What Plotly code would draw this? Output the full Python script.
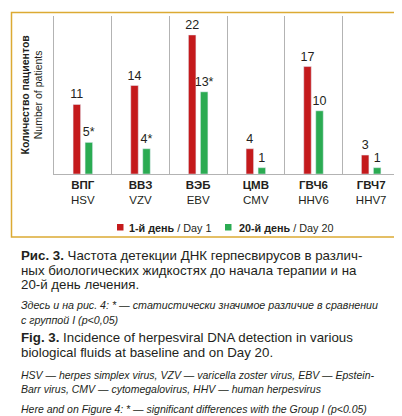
import plotly.graph_objects as go

categories_ru = ["ВПГ", "ВВЗ", "ВЭБ", "ЦМВ", "ГВЧ6", "ГВЧ7"]
categories_en = ["HSV", "VZV", "EBV", "CMV", "HHV6", "HHV7"]
day1_values = [11, 14, 22, 4, 17, 3]
day20_values = [5, 4, 13, 1, 10, 1]
day20_marks = ["*", "*", "*", "", "", ""]
series_names = ["<b>1-й день</b> / Day 1", "<b>20-й день</b> / Day 20"]

RED = "#c41a1c"
GREEN = "#2bab52"
GOLD = "#dcaa33"
GRID = "#b3b3b3"
TXT = "#231f20"
COND = "Liberation Sans, Arial, sans-serif"
CAP = "Liberation Sans, Arial, Helvetica, sans-serif"

W, H = 402, 416
L, R, T, B = 46, 10, 8, 250
PW, PH = W - L - R, H - T - B

def px(x):
    return (x - L) / PW

def py(y):
    return (H - B - y) / PH

x_labels = [f"<b>{ru}</b><br>{en}" for ru, en in zip(categories_ru, categories_en)]

fig = go.Figure()
fig.add_trace(go.Bar(
    x=x_labels, y=day1_values, marker_color=RED, showlegend=False,
    text=[str(v) for v in day1_values], textposition="outside", constraintext="none",
    textfont=dict(family=COND, size=12.5, color=TXT), cliponaxis=False,
))
fig.add_trace(go.Bar(
    x=x_labels, y=day20_values, marker_color=GREEN, showlegend=False,
    text=[f"{v}{m}" for v, m in zip(day20_values, day20_marks)], textposition="outside",
    constraintext="none",
    textfont=dict(family=COND, size=12.5, color=TXT), cliponaxis=False,
))

fig.update_layout(
    width=W, height=H,
    margin=dict(l=L, r=R, t=T, b=B),
    paper_bgcolor="white", plot_bgcolor="white",
    barmode="group", bargap=0.584, bargroupgap=0.375,
    font=dict(family=COND, color=TXT),
    showlegend=False,
)
fig.update_xaxes(
    type="category", range=[-0.5, 5.5], tickson="boundaries",
    showgrid=True, gridcolor=GRID, gridwidth=1.2,
    showline=True, linecolor=GRID, linewidth=1.2,
    ticks="", tickfont=dict(family=COND, size=11.5, color=TXT),
)
fig.update_yaxes(
    range=[0, 25], showgrid=False, showticklabels=False, zeroline=False,
    showline=True, linecolor=GRID, linewidth=1.2, ticks="",
)

ann = []
# y axis title
ann.append(dict(
    xref="paper", yref="paper", x=px(23.5), y=0.5, xanchor="center", yanchor="middle",
    textangle=-90, showarrow=False,
    text="<b>Количество пациентов</b><br>Number of patients",
    font=dict(family=COND, size=10.5, color=TXT),
))
# legend
legend_items = [(109, 119, RED, series_names[0]), (217, 229, GREEN, series_names[1])]
shapes = []
for sx, tx, col, name in legend_items:
    shapes.append(dict(type="rect", xref="paper", yref="paper",
                       x0=px(sx), x1=px(sx + 6.5), y0=py(222.5), y1=py(216), line_width=0, fillcolor=col))
    ann.append(dict(xref="paper", yref="paper", x=px(tx), y=py(219.5), xanchor="left", yanchor="middle",
                    showarrow=False, text=name, font=dict(family=COND, size=10.8, color=TXT)))

# frame
shapes.append(dict(type="rect", xref="paper", yref="paper", x0=px(3.5), x1=px(396.5), y0=py(229), y1=py(4.5),
                   line=dict(color=GOLD, width=1.5), fillcolor="rgba(0,0,0,0)", layer="below"))
shapes.append(dict(type="line", xref="paper", yref="paper", x0=px(0), x1=px(397), y0=py(414.5), y1=py(414.5),
                   line=dict(color=GOLD, width=1.5)))

caption_lines = [
    (247.5, "<b>Рис. 3.</b> Частота детекции ДНК герпесвирусов в различ-", 13.3, False),
    (262, "ных биологических жидкостях до начала терапии и на", 13.3, False),
    (276.5, "20-й день лечения.", 13.3, False),
    (297, "Здесь и на рис. 4: * — статистически значимое различие в сравнении", 10.7, True),
    (312, "с группой I (p<0,05)", 10.7, True),
    (329.5, "<b>Fig. 3.</b> Incidence of herpesviral DNA detection in various", 13.3, False),
    (344.5, "biological fluids at baseline and on Day 20.", 13.3, False),
    (367, "HSV — herpes simplex virus, VZV — varicella zoster virus, EBV — Epstein-", 10.5, True),
    (381.5, "Barr virus, CMV — cytomegalovirus, HHV — human herpesvirus", 10.5, True),
    (401, "Here and on Figure 4: * — significant differences with the Group I (p<0.05)", 10.5, True),
]
for yy, txt, sz, it in caption_lines:
    ann.append(dict(xref="paper", yref="paper", x=px(12), y=py(yy), xanchor="left", yanchor="middle",
                    showarrow=False, text=(f"<i>{txt}</i>" if it else txt),
                    borderpad=0, font=dict(family=CAP, size=sz, color=TXT)))

fig.update_layout(annotations=ann, shapes=shapes)
fig.write_html("out.html")
